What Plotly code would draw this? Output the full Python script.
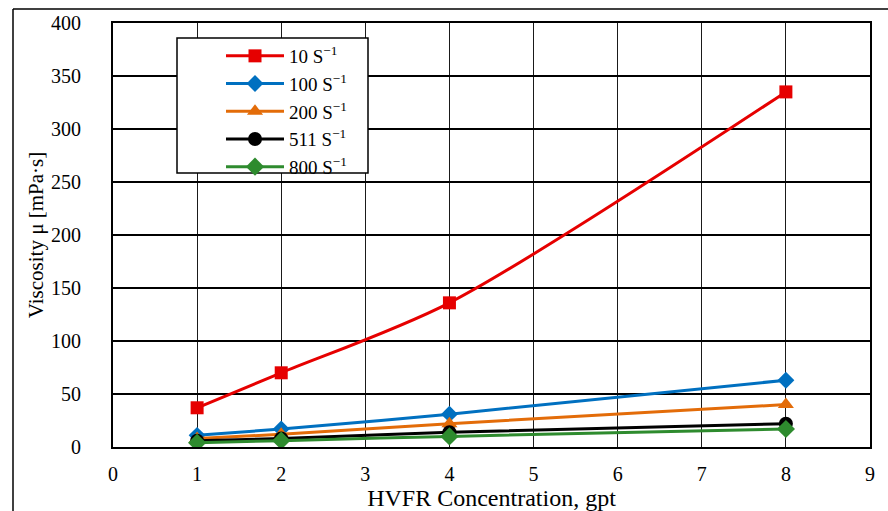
import plotly.graph_objects as go

# HVFR concentration (gpt) and apparent viscosity (mPa·s) at each shear rate
concentration = [1, 2, 4, 8]
visc_10 = [37, 70, 136, 335]
visc_100 = [11, 17, 31, 63]
visc_200 = [8, 12, 22, 40]
visc_511 = [6, 8, 14, 22]
visc_800 = [4, 6, 10, 17]

series_names = ["10 S<sup>−1</sup>", "100 S<sup>−1</sup>", "200 S<sup>−1</sup>",
                "511 S<sup>−1</sup>", "800 S<sup>−1</sup>"]
series_values = [visc_10, visc_100, visc_200, visc_511, visc_800]
colors = ["#E60000", "#0070C0", "#E36C09", "#000000", "#2E8B2E"]
symbols = ["square", "diamond", "triangle-up", "circle", "diamond"]
sizes = [13, 13, 14, 14, 14]

x_ticks = list(range(0, 10))
y_ticks = list(range(0, 401, 50))

W, H = 888, 511
L, R, T, B = 113, 18, 23, 64
pw, ph = W - L - R, H - T - B


def px_to_paper(px, py):
    return (px - L) / pw, (H - B - py) / ph


fig = go.Figure()
for name, vals, c, s, sz in zip(series_names, series_values, colors, symbols, sizes):
    fig.add_trace(go.Scatter(
        x=concentration, y=vals, name=name, mode="lines+markers",
        line=dict(color=c, width=3, shape="spline", smoothing=0.8),
        marker=dict(symbol=s, size=sz, color=c),
    ))

font_family = "Liberation Serif, Times New Roman, serif"

# Outer frame around the figure (top and left edges)
fx0, fy0 = px_to_paper(13, 9)
fx1, _ = px_to_paper(W + 5, 9)
_, fyb = px_to_paper(13, H + 5)
shapes = [
    dict(type="line", xref="paper", yref="paper", x0=fx0, y0=fy0, x1=fx1, y1=fy0,
         line=dict(color="#000000", width=1.5)),
    dict(type="line", xref="paper", yref="paper", x0=fx0, y0=fy0, x1=fx0, y1=fyb,
         line=dict(color="#000000", width=1.5)),
]
# Legend box
bx0, by0 = px_to_paper(177, 38)
bx1, by1 = px_to_paper(368, 173)
shapes.append(dict(type="rect", xref="paper", yref="paper", x0=bx0, y0=by1, x1=bx1, y1=by0,
                   line=dict(color="#000000", width=1.5), fillcolor="#FFFFFF", layer="above"))

lx, ly = px_to_paper(221, 37)

fig.update_layout(
    width=W, height=H,
    margin=dict(l=L, r=R, t=T, b=B),
    paper_bgcolor="#FFFFFF", plot_bgcolor="#FFFFFF",
    font=dict(family=font_family, size=19, color="#000000"),
    showlegend=True,
    legend=dict(x=lx, y=ly, xanchor="left", yanchor="top", bgcolor="rgba(0,0,0,0)",
                borderwidth=0, font=dict(size=19, family=font_family),
                itemwidth=58, tracegroupgap=0),
    shapes=shapes,
    xaxis=dict(range=[0, 9], tickvals=x_ticks, showgrid=True, gridcolor="#1a1a1a",
               gridwidth=1.3, zeroline=False, showline=True, linecolor="#000000",
               linewidth=2, mirror=True, ticks="", tickfont=dict(size=20, family=font_family),
               ticklabelstandoff=8, automargin=False,
               title=dict(text="HVFR Concentration, gpt", font=dict(size=24, family=font_family))),
    yaxis=dict(range=[0, 400], tickvals=y_ticks, showgrid=True, gridcolor="#000000",
               gridwidth=1.8, zeroline=False, showline=True, linecolor="#000000",
               linewidth=2, mirror=True, ticks="", tickfont=dict(size=20, family=font_family),
               ticklabelstandoff=26, automargin=True,
               title=dict(text="Viscosity μ [mPa·s]", font=dict(size=21, family=font_family),
                          standoff=2)),
)

fig.write_html("out.html")
